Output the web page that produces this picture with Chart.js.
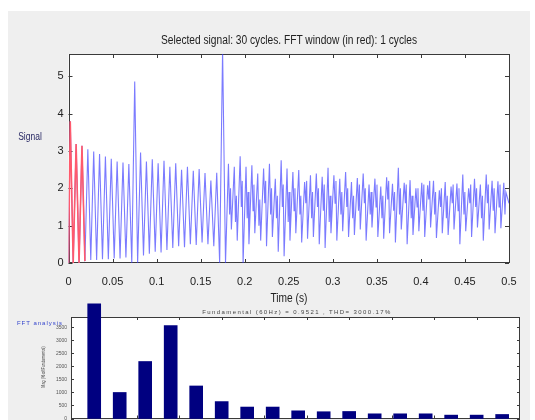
<!DOCTYPE html>
<html>
<head>
<meta charset="utf-8">
<script src="https://cdn.jsdelivr.net/npm/chart.js@4.4.1/dist/chart.umd.min.js"></script>
<style>
html, body { margin:0; padding:0; background:#fff; overflow:hidden; width:535px; height:420px; }
#panel { position:absolute; left:8px; top:11px; width:522px; height:420px; background:#efefef; }
canvas { position:absolute; left:0; }
.lbl { position:absolute; white-space:nowrap; font-family:'Liberation Sans Narrow','Liberation Sans',Arial,sans-serif; color:#222; }
</style>
</head>
<body>
<div id="panel"></div>
<canvas id="sig" width="535" height="300" style="top:0"></canvas>
<canvas id="fft" width="535" height="180" style="top:300px"></canvas>

<div class="lbl" style="left:289px;top:40px;font-size:12px;transform:translate(-50%,-50%) scaleX(.85)">Selected signal: 30 cycles. FFT window (in red): 1 cycles</div>
<div class="lbl" style="left:30px;top:136px;font-size:10px;color:#2b2b66;transform:translate(-50%,-50%) scaleX(.85)">Signal</div>
<div class="lbl" style="left:289px;top:298px;font-size:12px;transform:translate(-50%,-50%) scaleX(.85)">Time (s)</div>
<div class="lbl" style="left:297px;top:312px;font-size:6px;color:#444;letter-spacing:1.4px;transform:translate(-50%,-50%)">Fundamental (60Hz) = 0.9521 , THD= 3000.17%</div>
<div class="lbl" style="left:40px;top:323px;font-size:6px;color:#3344cc;letter-spacing:1px;transform:translate(-50%,-50%)">FFT analysis</div>
<div class="lbl" style="left:43px;top:367px;font-size:5px;color:#333;transform:translate(-50%,-50%) rotate(-90deg) scaleX(.75)">Mag (% of Fundamental)</div>

<script>
// --- signal (top plot) ---
const cycleT = 0.00665;      // s between peaks
const firstPeak = 0.002;
const peakVals = [
  3.8, 3.19, 3.14, 3.05, 2.99, 2.92, 2.85, 2.79, 2.72, 2.69,
  2.65, 4.86, 2.96, 2.72, 2.78, 2.67, 2.74, 2.58, 2.67, 2.5,
  2.58, 2.47, 2.52, 2.41, 2.21, 2.42, 5.7, 2.66, 2.58, 2.86,
  2.58, 2.62, 2.4, 2.53, 2.66, 2.26, 2.75, 2.53, 2.44, 2.49,
  2.17, 2.35, 2.4, 2.31, 2.55, 2.35, 2.26, 2.44, 2.17, 2.28,
  2.4, 2.1, 2.26, 2.05, 2.3, 2.12, 2.55, 2.15, 2.22, 2.0,
  2.15, 2.08, 2.2, 1.95, 2.17, 2.05, 2.13, 2.37, 2.0, 2.26,
  2.1, 2.37, 2.2, 2.19, 2.15
];
const troughVals = [
  0, 0, 0, 0.05, 0.08, 0.08, 0.1, 0.1, 0.12, 0.12,
  0.15, 0, 0, 0.2, 0.25, 0.3, 0.28, 0.35, 0.4, 0.45,
  0.42, 0.5, 0.48, 0.55, 0.5, 0.45, 0, 0, 0.9, 0.6,
  0, 0.5, 0.8, 0.6, 0.45, 0.7, 0.3, 0.18, 0.6, 0.8,
  0.55, 0.65, 0.7, 0.5, 0.4, 0.8, 0.6, 0.85, 0.7, 0.75,
  0.9, 0.6, 0.95, 0.7, 0.65, 0.8, 0.55, 0.9, 0.5, 0.75,
  0.85, 0.7, 0.95, 0.67, 0.8, 0.75, 0.9, 0.5, 0.85, 0.7,
  0.95, 0.6, 0.9, 0.8, 0.93
];
// second smaller swing inside each cycle, after the 2nd spike
const midStart = 27;
const midDips = [
  1.3, 1.1, 1.5, 1.2, 1.4, 1.0, 1.6, 1.3, 1.2, 1.5,
  1.1, 1.4, 1.3, 1.6, 1.2, 1.5, 1.4, 1.1, 1.6, 1.3,
  1.5, 1.2, 1.4, 1.6, 1.3, 1.5, 1.2, 1.7, 1.4, 1.3,
  1.6, 1.2, 1.5, 1.4, 1.7, 1.3, 1.5, 1.2, 1.6, 1.4,
  1.3, 1.6, 1.5, 1.2, 1.6, 1.4, 1.5, 1.3
];
const midPeaks = [
  2.0, 1.8, 2.2, 1.9, 2.1, 1.7, 2.2, 2.0, 1.8, 2.1,
  1.9, 2.0, 1.8, 2.2, 1.9, 2.0, 2.1, 1.8, 2.2, 1.9,
  2.0, 1.8, 2.1, 2.0, 1.9, 2.1, 1.8, 2.2, 1.9, 2.0,
  2.1, 1.8, 2.0, 2.1, 2.2, 1.9, 2.0, 1.8, 2.1, 2.0,
  1.9, 2.1, 2.0, 1.8, 2.1, 2.0, 2.1, 1.9
];
const endVal = 1.6;
const windowEnd = 0.019;     // FFT window (red), 1 cycle
const timeTicks = [0, 0.05, 0.1, 0.15, 0.2, 0.25, 0.3, 0.35, 0.4, 0.45, 0.5];
const sigTicks = [0, 1, 2, 3, 4, 5];

// --- FFT bars (bottom plot) ---
const binFreq = [0, 30, 60, 90, 120, 150, 180, 210, 240, 270, 300, 330, 360, 390, 420, 450, 480];
const binMag = [4410, 1000, 2190, 3575, 1250, 650, 440, 440, 295, 260, 270, 180, 180, 180, 130, 130, 155];
const freqTicks = [0, 50, 100, 150, 200, 250, 300, 350, 400, 450, 500];
const magTicks = [0, 500, 1000, 1500, 2000, 2500, 3000, 3500];

const FONT = "'Liberation Sans Narrow','Liberation Sans',Arial,sans-serif";
const setTicks = list => s => { s.ticks = list.map(v => ({ value: v })); };

const sigPts = [];
peakVals.forEach((p, k) => {
  const tp = firstPeak + k * cycleT;
  sigPts.push({ x: Math.max(0, tp - cycleT / 2), y: troughVals[k] });
  sigPts.push({ x: tp, y: p });
  if (k >= midStart) {
    sigPts.push({ x: tp + cycleT * 0.2, y: midDips[k - midStart] });
    sigPts.push({ x: tp + cycleT * 0.35, y: midPeaks[k - midStart] });
  }
});
sigPts.push({ x: 0.5, y: endVal });
const winPts = sigPts.filter(p => p.x <= windowEnd);

// white plot box with inward ticks on all four sides (matlab style)
const boxTicks = {
  id: 'boxTicks',
  beforeDatasetsDraw(c, args, opts) {
    const { ctx, chartArea: a, scales: { x, y } } = c;
    const L = opts.len || 4;
    ctx.save();
    ctx.fillStyle = '#fff';
    ctx.fillRect(a.left, a.top, a.width, a.height);
    ctx.strokeStyle = '#3a3a3a';
    ctx.lineWidth = 1;
    ctx.beginPath();
    x.ticks.forEach(t => {
      const px = Math.round(x.getPixelForValue(t.value)) + 0.5;
      ctx.moveTo(px, a.bottom); ctx.lineTo(px, a.bottom - L);
      ctx.moveTo(px, a.top); ctx.lineTo(px, a.top + L);
    });
    y.ticks.forEach(t => {
      const py = Math.round(y.getPixelForValue(t.value)) + 0.5;
      ctx.moveTo(a.left, py); ctx.lineTo(a.left + L, py);
      ctx.moveTo(a.right, py); ctx.lineTo(a.right - L, py);
    });
    ctx.stroke();
    ctx.strokeRect(Math.round(a.left) + 0.5, Math.round(a.top) + 0.5, Math.round(a.width) - 1, Math.round(a.height) - 1);
    ctx.restore();
  }
};

new Chart(document.getElementById('sig'), {
  type: 'line',
  data: {
    datasets: [
      { data: winPts, borderColor: '#ff5a6c', borderWidth: 1.6, pointRadius: 0, tension: 0 },
      { data: sigPts, borderColor: 'rgba(60,60,255,0.68)', borderWidth: 1.1, pointRadius: 0, tension: 0 }
    ]
  },
  options: {
    responsive: false,
    animation: false,
    layout: { padding: { top: 54, right: 26, left: 0, bottom: 0 } },
    plugins: { legend: { display: false }, tooltip: { enabled: false }, boxTicks: { len: 4 } },
    scales: {
      x: {
        type: 'linear', min: 0, max: 0.5,
        afterFit: s => { s.height = 37; },
        afterBuildTicks: setTicks(timeTicks),
        grid: { display: false, drawTicks: false }, border: { display: false },
        ticks: { padding: 12, color: '#222', maxRotation: 0, autoSkip: false,
          font: { size: 11, family: FONT }, callback: v => String(+v.toFixed(2)) }
      },
      y: {
        min: 0, max: 5.6,
        afterFit: s => { s.width = 68.5; },
        afterBuildTicks: setTicks(sigTicks),
        grid: { display: false, drawTicks: false }, border: { display: false },
        ticks: { padding: 5, color: '#222', font: { size: 11, family: FONT } }
      }
    }
  },
  plugins: [boxTicks]
});

new Chart(document.getElementById('fft'), {
  type: 'bar',
  data: {
    datasets: [{
      data: binFreq.map((f, i) => ({ x: f, y: binMag[i] })),
      backgroundColor: '#000080', barThickness: 13, clip: false
    }]
  },
  options: {
    responsive: false,
    animation: false,
    layout: { padding: { top: 17, right: 15, left: 0, bottom: 0 } },
    plugins: { legend: { display: false }, tooltip: { enabled: false }, boxTicks: { len: 3 } },
    scales: {
      x: {
        type: 'linear', min: -27.3, max: 501, offset: false,
        afterFit: s => { s.height = 61.5; },
        afterBuildTicks: setTicks(freqTicks),
        grid: { display: false, drawTicks: false, offset: false }, border: { display: false },
        ticks: { padding: 6, color: '#555', autoSkip: false, font: { size: 6, family: FONT }, callback: v => String(v) }
      },
      y: {
        min: 0, max: 3900,
        afterFit: s => { s.width = 71; },
        afterBuildTicks: setTicks(magTicks),
        grid: { display: false, drawTicks: false }, border: { display: false },
        ticks: { padding: 4, color: '#555', autoSkip: false, font: { size: 5, family: FONT }, callback: v => String(v) }
      }
    }
  },
  plugins: [boxTicks]
});
</script>
</body>
</html>
